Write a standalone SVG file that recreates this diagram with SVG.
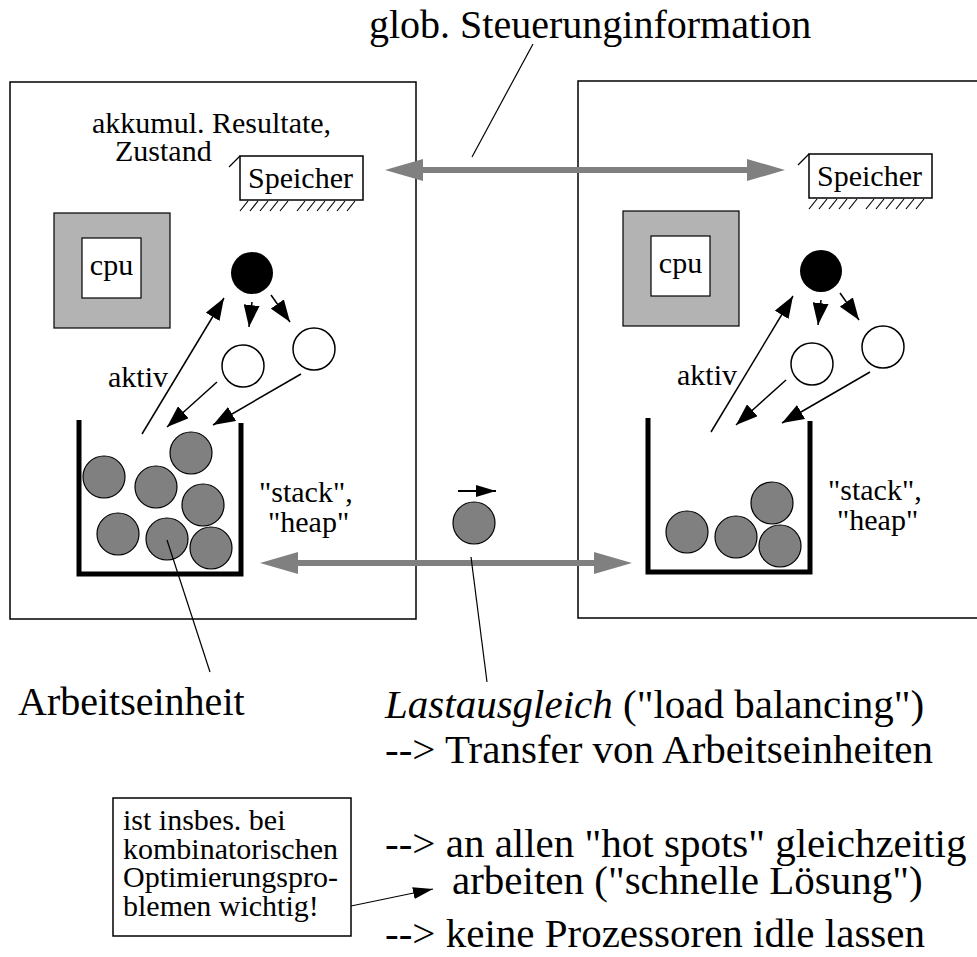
<svg xmlns="http://www.w3.org/2000/svg" width="977" height="957" viewBox="0 0 977 957">
<style>
text{font-family:"Liberation Serif","Times New Roman",serif;fill:#000}
.s{font-size:30px}
.b{font-size:41px}
.box{fill:#fff;stroke:#000;stroke-width:1.5}
.thin{stroke:#000;stroke-width:1.2;fill:none}
.arr{stroke:#000;stroke-width:1.5;fill:none;marker-end:url(#ah)}
.ball{fill:#808080;stroke:#000;stroke-width:1.2}
.wball{fill:#fff;stroke:#000;stroke-width:1.5}
.bucket{fill:none;stroke:#000;stroke-width:5;stroke-linejoin:miter}
.cpuo{fill:#b3b3b3;stroke:#000;stroke-width:1.2}
.cpui{fill:#fff;stroke:#000;stroke-width:1.2}
.ga{fill:#808080;stroke:none}
.hatch{stroke:#000;stroke-width:1.2}
</style>
<defs>
<marker id="ah" markerUnits="userSpaceOnUse" markerWidth="22" markerHeight="16" refX="22" refY="8" orient="auto"><path d="M0,0 L22,8 L0,16 z" fill="#000"/></marker>
<marker id="ahs" markerUnits="userSpaceOnUse" markerWidth="20" markerHeight="12" refX="20" refY="6" orient="auto"><path d="M0,0 L20,6 L0,12 z" fill="#000"/></marker>
<g id="hatchpat">
<line class="hatch" x1="240" y1="211" x2="248" y2="201"/>
<line class="hatch" x1="250" y1="211" x2="258" y2="201"/>
<line class="hatch" x1="260" y1="211" x2="268" y2="201"/>
<line class="hatch" x1="270" y1="211" x2="278" y2="201"/>
<line class="hatch" x1="280" y1="211" x2="288" y2="201"/>
<line class="hatch" x1="297" y1="211" x2="305" y2="201"/>
<line class="hatch" x1="307" y1="211" x2="315" y2="201"/>
<line class="hatch" x1="317" y1="211" x2="325" y2="201"/>
<line class="hatch" x1="327" y1="211" x2="335" y2="201"/>
<line class="hatch" x1="337" y1="211" x2="345" y2="201"/>
<line class="hatch" x1="347" y1="211" x2="355" y2="201"/>
</g>
</defs>
<rect width="977" height="957" fill="#fff"/>

<!-- processor boxes -->
<g id="proc-left"><rect class="box" x="10" y="82" width="406" height="537"/></g>
<g id="proc-right"><rect class="box" x="578" y="81" width="420" height="537"/></g>

<!-- left internals -->
<g id="speicher-left">
<rect class="box" x="240" y="156" width="123" height="44"/>
<line class="thin" x1="229" y1="167" x2="240" y2="156"/>
<use href="#hatchpat"/>
<text class="s" x="248" y="188">Speicher</text>
</g>
<g id="label-akkumul">
<text class="s" x="92" y="133">akkumul. Resultate,</text>
<text class="s" x="115" y="161">Zustand</text>
</g>
<g id="cpu-left">
<rect class="cpuo" x="54" y="213" width="116" height="115"/>
<rect class="cpui" x="82" y="238" width="59" height="60"/>
<text class="s" x="111.5" y="275" text-anchor="middle">cpu</text>
</g>
<g id="active-left"><circle cx="252" cy="273" r="21" fill="#000"/></g>
<g id="child1-left"><circle class="wball" cx="243" cy="366" r="21"/></g>
<g id="child2-left"><circle class="wball" cx="314" cy="349" r="21"/></g>
<g id="aktiv-left"><text class="s" x="108" y="387">aktiv</text></g>
<g id="bucket-left">
<path class="bucket" d="M79,420 V574 H241 V423"/>
<circle class="ball" cx="104" cy="477" r="21"/>
<circle class="ball" cx="156" cy="487" r="21"/>
<circle class="ball" cx="191" cy="453" r="21"/>
<circle class="ball" cx="203" cy="505" r="21"/>
<circle class="ball" cx="118" cy="534" r="21"/>
<circle class="ball" cx="167" cy="539" r="21"/>
<circle class="ball" cx="211" cy="548" r="21"/>
</g>
<g id="stack-left">
<text class="s" x="259" y="502">"stack",</text>
<text class="s" x="268" y="532">"heap"</text>
</g>

<!-- right internals -->
<g id="speicher-right">
<rect class="box" x="809" y="154" width="123" height="44"/>
<line class="thin" x1="798" y1="165" x2="809" y2="154"/>
<use href="#hatchpat" transform="translate(569,-2)"/>
<text class="s" x="817" y="186">Speicher</text>
</g>
<g id="cpu-right">
<rect class="cpuo" x="623" y="211" width="116" height="115"/>
<rect class="cpui" x="651" y="236" width="59" height="60"/>
<text class="s" x="680.5" y="273" text-anchor="middle">cpu</text>
</g>
<g id="active-right"><circle cx="821" cy="271" r="21" fill="#000"/></g>
<g id="child1-right"><circle class="wball" cx="812" cy="364" r="21"/></g>
<g id="child2-right"><circle class="wball" cx="883" cy="347" r="21"/></g>
<g id="aktiv-right"><text class="s" x="677" y="385">aktiv</text></g>
<g id="bucket-right">
<path class="bucket" d="M648,418 V572 H810 V421"/>
<circle class="ball" cx="687" cy="532" r="21"/>
<circle class="ball" cx="736" cy="537" r="21"/>
<circle class="ball" cx="772" cy="503" r="21"/>
<circle class="ball" cx="780" cy="546" r="21"/>
</g>
<g id="stack-right">
<text class="s" x="828" y="500">"stack",</text>
<text class="s" x="837" y="530">"heap"</text>
</g>

<!-- transferred unit -->
<g id="transfer-unit">
<circle class="ball" cx="474" cy="523" r="21"/>
</g>

<!-- connectors -->
<g id="connectors">
<line class="arr" x1="142" y1="434" x2="224" y2="298"/>
<line class="arr" x1="252" y1="302" x2="249" y2="327"/>
<line class="arr" x1="271" y1="295" x2="290" y2="322"/>
<line class="arr" x1="217" y1="382" x2="167" y2="427"/>
<line class="arr" x1="301" y1="374" x2="213" y2="425"/>
<line class="arr" x1="711" y1="432" x2="793" y2="296"/>
<line class="arr" x1="821" y1="300" x2="818" y2="325"/>
<line class="arr" x1="840" y1="293" x2="859" y2="320"/>
<line class="arr" x1="786" y1="380" x2="736" y2="425"/>
<line class="arr" x1="870" y1="372" x2="782" y2="423"/>
<polygon class="ga" points="385,170 423,159 423,167 747,167 747,159 785,170 747,181 747,173 423,173 423,181"/>
<polygon class="ga" points="260,563 298,552 298,560 594,560 594,552 632,563 594,574 594,566 298,566 298,574"/>
<line x1="458" y1="491" x2="496" y2="491" stroke="#000" stroke-width="2" marker-end="url(#ahs)"/>
<line class="thin" x1="533" y1="44" x2="472" y2="157"/>
<line class="thin" x1="167" y1="540" x2="210" y2="672"/>
<line class="thin" x1="471" y1="557" x2="487" y2="682"/>
<line x1="351" y1="906" x2="433" y2="889" stroke="#000" stroke-width="1.2" marker-end="url(#ahs)"/>
</g>

<!-- labels -->
<g id="title"><text style="font-size:40px" x="369" y="38">glob. Steuerunginformation</text></g>
<g id="label-arbeitseinheit"><text style="font-size:40px" x="18" y="715">Arbeitseinheit</text></g>
<g id="label-lastausgleich">
<text class="b" x="385" y="718"><tspan font-style="italic">Lastausgleich</tspan> ("load balancing")</text>
<text class="b" x="385" y="763">--&gt; Transfer von Arbeitseinheiten</text>
<text class="b" x="385" y="857">--&gt; an allen "hot spots" gleichzeitig</text>
<text class="b" x="452" y="894">arbeiten ("schnelle Lösung")</text>
<text class="b" x="385" y="947">--&gt; keine Prozessoren idle lassen</text>
</g>
<g id="note">
<rect class="box" x="113" y="798" width="238" height="138"/>
<text class="s" x="123" y="830">ist insbes. bei</text>
<text class="s" x="123" y="859">kombinatorischen</text>
<text class="s" x="123" y="887">Optimierungspro-</text>
<text class="s" x="123" y="916">blemen wichtig!</text>
</g>
</svg>
